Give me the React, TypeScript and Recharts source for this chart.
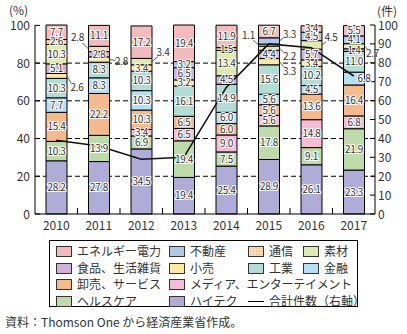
import React from 'react';
import { ComposedChart, Bar, Line, XAxis, YAxis, CartesianGrid, LabelList } from 'recharts';

const years = ['2010', '2011', '2012', '2013', '2014', '2015', '2016', '2017'];

// shares (%) per industry, stacked bottom -> top
const hitech = [28.2, 27.8, 34.5, 19.4, 25.4, 28.9, 26.1, 23.3];
const healthcare = [10.3, 13.9, 6.9, 19.4, 7.5, 17.8, 9.1, 21.9];
const media = [0, 0, 3.4, 6.5, 9.0, 5.6, 14.8, 6.8];
const wholesale = [15.4, 22.2, 10.3, 6.5, 6.0, 5.6, 13.6, 16.4];
const finance = [7.7, 8.3, 10.3, 0, 6.0, 5.6, 4.5, 6.8];
const industry = [10.3, 8.3, 10.3, 16.1, 14.9, 15.6, 10.2, 11.0];
const retail = [2.6, 2.8, 3.4, 3.2, 0, 3.3, 3.4, 0];
const food = [5.1, 2.8, 0, 6.5, 4.5, 4.4, 5.7, 1.4];
const materials = [10.3, 0, 3.4, 0, 13.4, 2.2, 4.5, 2.7];
const telecom = [2.6, 2.8, 0, 0, 1.5, 1.1, 0, 0];
const realEstate = [0, 0, 0, 3.2, 0, 3.3, 4.5, 4.1];
const energy = [7.7, 11.1, 17.2, 19.4, 11.9, 6.7, 3.4, 5.5];

// total deals (right axis)
const dealCount = [39, 36, 29, 30, 67, 90, 88, 73];

const leftTicks = [0, 20, 40, 60, 80, 100];
const rightTicks = [0, 10, 20, 30, 40, 50, 60, 70, 80, 90, 100];
const gridValues = [20, 40, 60, 80];

const FONT = '"Noto Sans CJK JP", "Noto Sans", sans-serif';
const TEXT = '#333';
const PLOT_LEFT = 35;
const BAND = 42.5;

const series = [
  { key: 'hitech', name: 'ハイテク', values: hitech, color: '#b0acd8' },
  { key: 'healthcare', name: 'ヘルスケア', values: healthcare, color: '#bddca9' },
  { key: 'media', name: 'メディア、エンターテイメント', values: media, color: '#f5bdd5' },
  { key: 'wholesale', name: '卸売、サービス', values: wholesale, color: '#f5b98e' },
  { key: 'finance', name: '金融', values: finance, color: '#b7dff6' },
  { key: 'industry', name: '工業', values: industry, color: '#b3ddd4' },
  { key: 'retail', name: '小売', values: retail, color: '#fdeaa3' },
  { key: 'food', name: '食品、生活雑貨', values: food, color: '#cfb1d9' },
  { key: 'materials', name: '素材', values: materials, color: '#dfeab2' },
  { key: 'telecom', name: '通信', values: telecom, color: '#fbd9b4' },
  { key: 'realEstate', name: '不動産', values: realEstate, color: '#b1c7e9' },
  { key: 'energy', name: 'エネルギー電力', values: energy, color: '#f3bbbb' },
];

const data = years.map((year, i) => {
  const row: Record<string, string | number> = { year, count: dealCount[i] };
  series.forEach((s) => {
    row[s.key] = s.values[i];
  });
  return row;
});

// labels drawn beside the bar with a leader line
const outsideLabels: Record<string, { side: 'left' | 'right'; tx: number; ty: number; lx: number; ly: number }> = {
  'retail-2010': { side: 'right', tx: 10, ty: 12, lx: 4, ly: 7 },
  'telecom-2011': { side: 'left', tx: -11, ty: -11, lx: -6, ly: -6 },
  'retail-2011': { side: 'right', tx: 12, ty: 2, lx: 6, ly: 1 },
  'materials-2012': { side: 'right', tx: 11, ty: -9, lx: 6, ly: -5 },
  'telecom-2015': { side: 'left', tx: -10, ty: -10, lx: -5, ly: -5 },
  'realEstate-2015': { side: 'right', tx: 10, ty: -6, lx: 4, ly: -3 },
  'materials-2015': { side: 'right', tx: 10, ty: 8, lx: 4, ly: 4 },
  'retail-2015': { side: 'right', tx: 10, ty: 10, lx: 4, ly: 5 },
  'materials-2016': { side: 'right', tx: 9, ty: -7, lx: 4, ly: -3 },
  'materials-2017': { side: 'right', tx: 8, ty: 7, lx: 3, ly: 3 },
};
const shiftedLabels: Record<string, number> = { 'finance-2017': 10 };

const makeLabel = (key: string) => (props: any) => {
  const vb = props.viewBox || {};
  const x = props.x ?? vb.x;
  const y = props.y ?? vb.y;
  const width = props.width ?? vb.width;
  const height = props.height ?? vb.height;
  const value = props.value;
  if (!value) return null;
  // zero segments are dropped from the label list, so find the year from the bar position
  const idx = Math.round((x + width / 2 - PLOT_LEFT) / BAND - 0.5);
  const id = `${key}-${years[idx]}`;
  const cy = y + height / 2;
  const text = Number(value).toFixed(1);
  const out = outsideLabels[id];
  if (out) {
    const ex = out.side === 'right' ? x + width : x;
    return (
      <g>
        <line x1={ex} y1={cy} x2={ex + out.lx} y2={cy + out.ly} stroke="#333" strokeWidth={0.8} />
        <text x={ex + out.tx} y={cy + out.ty} dy={3.5} textAnchor="middle" fontSize={10} fill={TEXT} fontFamily={FONT} letterSpacing={-0.3}>
          {text}
        </text>
      </g>
    );
  }
  const cx = x + width / 2 + (shiftedLabels[id] || 0);
  return (
    <text
      x={cx}
      y={cy}
      dy={3.5}
      textAnchor="middle"
      fontSize={10}
      fill={TEXT}
      stroke="#fff"
      strokeWidth={2.2}
      paintOrder="stroke"
      fontFamily={FONT}
      letterSpacing={-0.3}
    >
      {text}
    </text>
  );
};

const LeftTick = ({ x, y, payload }: any) => (
  <g>
    <text x={x - 5} y={y} dy={4.5} textAnchor="end" fontSize={12} fill={TEXT} fontFamily={FONT}>
      {payload.value}
    </text>
    <line x1={x} x2={x + 5} y1={y} y2={y} stroke="#000" />
  </g>
);

const RightTick = ({ x, y, payload }: any) => (
  <g>
    <text x={x + 3} y={y} dy={4.5} textAnchor="start" fontSize={12} fill={TEXT} fontFamily={FONT}>
      {payload.value}
    </text>
    <line x1={x} x2={x - 5} y1={y} y2={y} stroke="#000" />
  </g>
);

const XTick = ({ x, y, payload, index }: any) => (
  <g>
    <text x={x} y={y + 16} textAnchor="middle" fontSize={12} fill={TEXT} fontFamily={FONT}>
      {payload.value}
    </text>
    {index < years.length - 1 && <line x1={x + BAND / 2} x2={x + BAND / 2} y1={y} y2={y - 6} stroke="#000" />}
  </g>
);

const legendRows = [
  ['energy', 'realEstate', 'telecom', 'materials'],
  ['food', 'retail', 'industry', 'finance'],
  ['wholesale', 'media'],
  ['healthcare', 'hitech', 'count'],
];
const legendCols = [6, 119, 198, 253];
const legendRowTops = [3, 20, 36, 53];

const swatchStyle = (key: string, color: string): React.CSSProperties => ({
  width: 14,
  height: 9,
  border: '1px solid #333',
  background:
    key === 'telecom'
      ? `radial-gradient(circle, #e8b888 0.6px, transparent 0.9px) 0 0 / 3px 3px, ${color}`
      : color,
  flex: 'none',
});

const Legend = () => (
  <div
    style={{
      position: 'absolute',
      left: 49,
      top: 240,
      width: 309,
      height: 67,
      border: '1.5px solid #000',
      boxSizing: 'border-box',
      fontFamily: FONT,
      fontSize: 12,
      color: TEXT,
    }}
  >
    {legendRows.map((row, r) =>
      row.map((key, c) => {
        const s = series.find((d) => d.key === key);
        return (
          <div
            key={key}
            style={{
              position: 'absolute',
              left: legendCols[c],
              top: legendRowTops[r],
              display: 'flex',
              alignItems: 'center',
              gap: 5,
              whiteSpace: 'nowrap',
              lineHeight: '14px',
              letterSpacing: key === 'media' ? -0.3 : 0,
            }}
          >
            {s ? (
              <div style={swatchStyle(key, s.color)} />
            ) : (
              <div style={{ width: 16, height: 0, borderTop: '1px solid #000' }} />
            )}
            <span>{s ? s.name : '合計件数（右軸）'}</span>
          </div>
        );
      })
    )}
  </div>
);

export default function App() {
  return (
    <div style={{ position: 'relative', width: 407, height: 334, background: '#fff', fontFamily: FONT }}>
      <style>{'body{margin:0}'}</style>
      <div style={{ position: 'absolute', left: 9, top: 1, fontSize: 12, color: TEXT }}>(%)</div>
      <div style={{ position: 'absolute', left: 377, top: 2, fontSize: 12, color: TEXT }}>(件)</div>
      <div style={{ position: 'absolute', left: 0, top: 0 }}>
        <ComposedChart width={407} height={234} data={data} margin={{ top: 25, right: 0, bottom: 0, left: 0 }} barSize={21}>
          <defs>
            <pattern id="telecomDots" width="3" height="3" patternUnits="userSpaceOnUse">
              <rect width="3" height="3" fill="#fbd9b4" />
              <circle cx="1.5" cy="1.5" r="0.5" fill="#e6b07e" />
            </pattern>
          </defs>
          <CartesianGrid
            yAxisId="left"
            vertical={false}
            horizontalValues={gridValues}
            stroke="#000"
            strokeDasharray="5 3"
          />
          <XAxis
            dataKey="year"
            height={20}
            tickLine={false}
            tickSize={0}
            tickMargin={0}
            axisLine={{ stroke: '#000' }}
            tick={<XTick />}
            interval={0}
          />
          <YAxis
            yAxisId="left"
            orientation="left"
            width={35}
            domain={[0, 100]}
            ticks={leftTicks}
            tickLine={false}
            tickSize={0}
            tickMargin={0}
            axisLine={{ stroke: '#000' }}
            tick={<LeftTick />}
            interval={0}
          />
          <YAxis
            yAxisId="right"
            orientation="right"
            width={32}
            domain={[0, 100]}
            ticks={rightTicks}
            tickLine={false}
            tickSize={0}
            tickMargin={0}
            axisLine={{ stroke: '#000' }}
            tick={<RightTick />}
            interval={0}
          />
          {series.map((s) => (
            <Bar
              key={s.key}
              dataKey={s.key}
              name={s.name}
              stackId="share"
              yAxisId="left"
              fill={s.key === 'telecom' ? 'url(#telecomDots)' : s.color}
              stroke="#000"
              strokeWidth={1}
              isAnimationActive={false}
            >
              <LabelList dataKey={s.key} content={makeLabel(s.key)} />
            </Bar>
          ))}
          <Line
            yAxisId="right"
            dataKey="count"
            name="合計件数（右軸）"
            type="linear"
            stroke="#111"
            strokeWidth={1.6}
            dot={false}
            activeDot={false}
            isAnimationActive={false}
          />
        </ComposedChart>
      </div>
      <Legend />
      <div style={{ position: 'absolute', left: 5, top: 313, fontSize: 12, color: TEXT, whiteSpace: 'nowrap' }}>
        資料：Thomson One から経済産業省作成。
      </div>
    </div>
  );
}
